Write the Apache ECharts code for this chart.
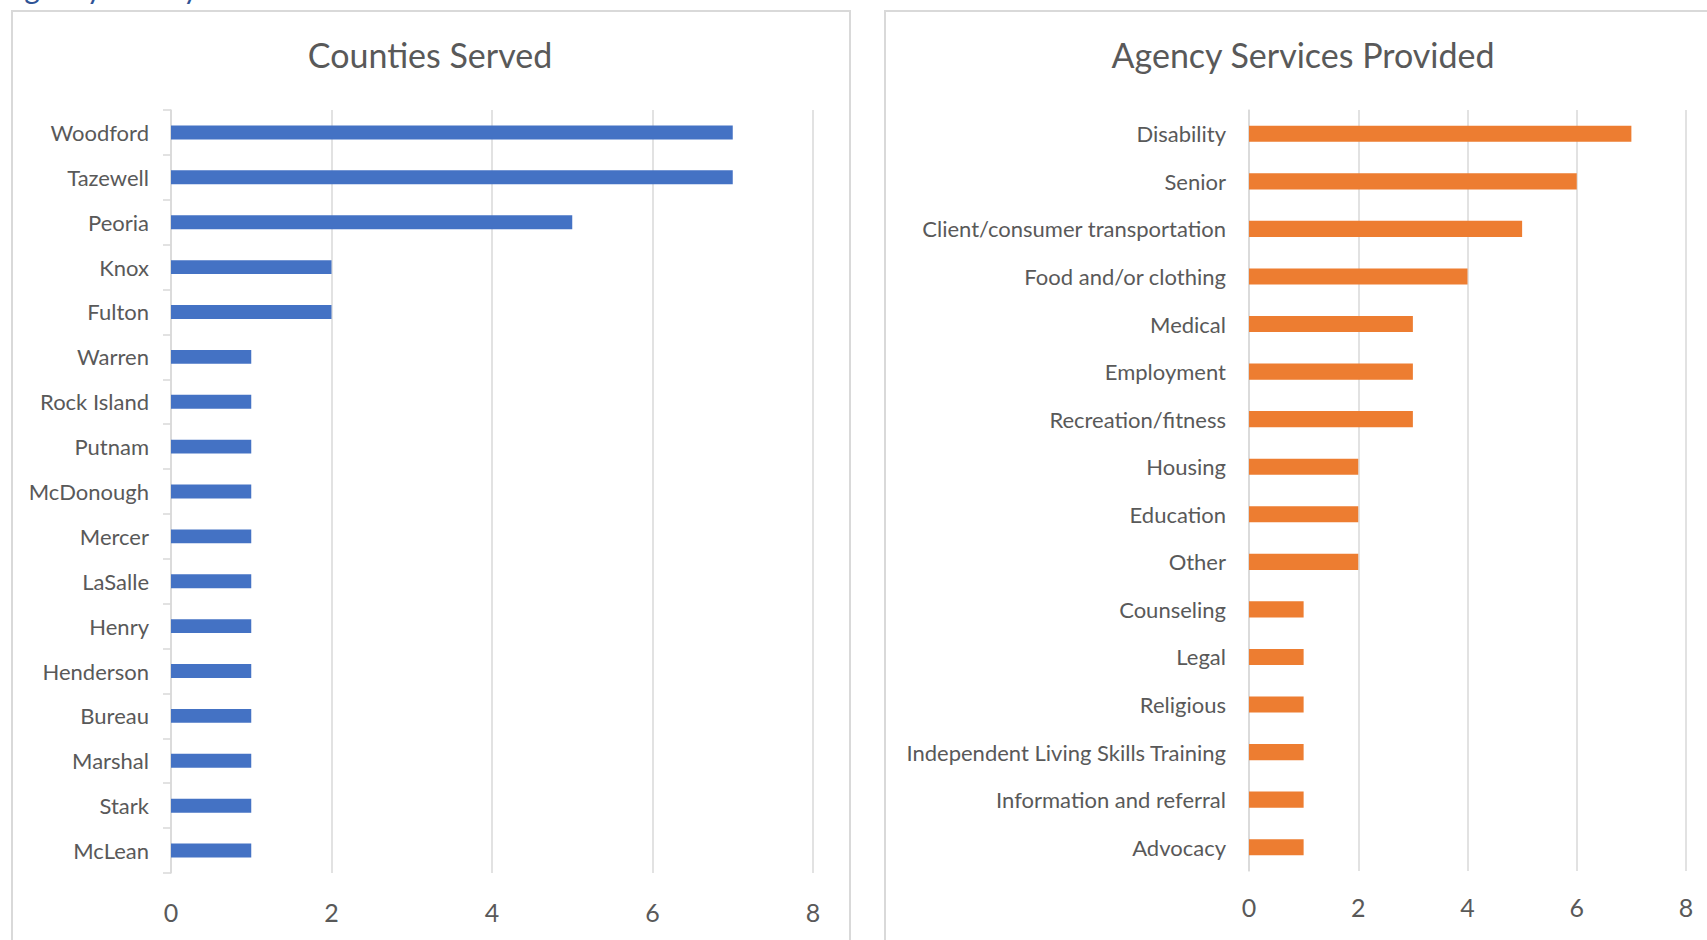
<!DOCTYPE html>
<html>
<head>
<meta charset="utf-8">
<script src="https://cdn.jsdelivr.net/npm/echarts@6/dist/echarts.min.js"></script>
<style>
html,body{margin:0;padding:0;background:#fff;}
#chart{width:1707px;height:940px;}
</style>
</head>
<body>
<div id="chart"></div>
<script>
const countyNames = ["Woodford","Tazewell","Peoria","Knox","Fulton","Warren","Rock Island","Putnam","McDonough","Mercer","LaSalle","Henry","Henderson","Bureau","Marshal","Stark","McLean"];
const countyValues = [7,7,5,2,2,1,1,1,1,1,1,1,1,1,1,1,1];
const serviceNames = ["Disability","Senior","Client/consumer transportation","Food and/or clothing","Medical","Employment","Recreation/fitness","Housing","Education","Other","Counseling","Legal","Religious","Independent Living Skills Training","Information and referral","Advocacy"];
const serviceValues = [7,6,5,4,3,3,3,2,2,2,1,1,1,1,1,1];
const leftTitle = "Counties Served";
const rightTitle = "Agency Services Provided";
const headingText = "Agency Survey";

const FONT = "Lato";
const TXT = "#595959";
const GRID = "#D9D9D9";

const chart = echarts.init(document.getElementById('chart'), null, {renderer:'svg'});

function valueAxis(gridIndex, margin){
  return {
    type:'value', gridIndex, min:0, max:8, interval:2,
    axisLine:{show:false}, axisTick:{show:false},
    splitLine:{show:true, lineStyle:{color:GRID, width:1.5}},
    axisLabel:{color:TXT, fontFamily:FONT, fontSize:25, margin}
  };
}

chart.setOption({
  animation:false,
  graphic:[
    {type:'rect', shape:{x:12,y:11,width:838,height:960}, style:{fill:'none', stroke:GRID, lineWidth:2}},
    {type:'rect', shape:{x:885,y:11,width:900,height:960}, style:{fill:'none', stroke:GRID, lineWidth:2}},
    {type:'text', x:4, y:2, style:{text:headingText, fill:'#2F5496', font:'30px Lato', textAlign:'left', textVerticalAlign:'bottom'}},
    {type:'text', x:430, y:54, style:{text:leftTitle, fill:TXT, font:'34px Lato', textAlign:'center', textVerticalAlign:'middle'}},
    {type:'text', x:1303, y:54, style:{text:rightTitle, fill:TXT, font:'34px Lato', textAlign:'center', textVerticalAlign:'middle'}}
  ],
  grid:[
    {left:171, top:110, width:642, height:763, containLabel:false},
    {left:1249, top:110, width:437, height:761, containLabel:false}
  ],
  xAxis:[valueAxis(0, 26), valueAxis(1, 23)],
  yAxis:[
    {type:'category', gridIndex:0, data:countyNames, inverse:true,
     axisLine:{show:true, lineStyle:{color:GRID, width:1.5}},
     axisTick:{show:true, length:8, lineStyle:{color:GRID, width:1.5}},
     axisLabel:{color:TXT, fontFamily:FONT, fontSize:22, margin:22}},
    {type:'category', gridIndex:1, data:serviceNames, inverse:true,
     axisLine:{show:true, lineStyle:{color:GRID, width:1.5}},
     axisTick:{show:false},
     axisLabel:{color:TXT, fontFamily:FONT, fontSize:22, margin:23}}
  ],
  series:[
    {type:'bar', xAxisIndex:0, yAxisIndex:0, data:countyValues, barWidth:'31%', itemStyle:{color:'#4472C4'}},
    {type:'bar', xAxisIndex:1, yAxisIndex:1, data:serviceValues, barWidth:'34%', itemStyle:{color:'#ED7D31'}}
  ]
});
</script>
</body>
</html>
